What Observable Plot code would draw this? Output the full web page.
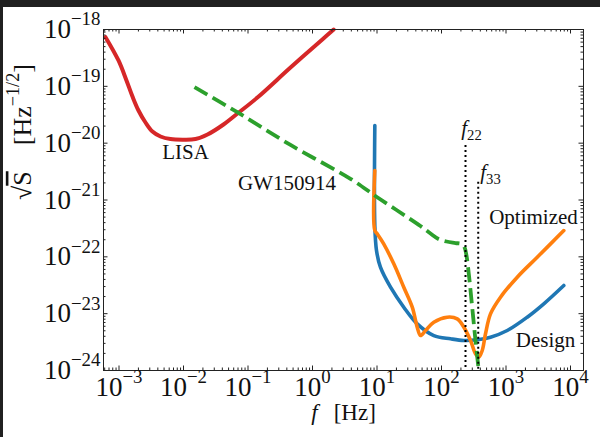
<!DOCTYPE html>
<html><head><meta charset="utf-8">
<script src="https://cdn.jsdelivr.net/npm/d3@7"></script>
<script src="https://cdn.jsdelivr.net/npm/@observablehq/plot@0.6"></script>
<style>
html,body{margin:0;padding:0;background:#202020;width:600px;height:437px;overflow:hidden;}
#chart{position:absolute;left:3px;top:7px;width:597px;height:430px;background:#fff;}
</style></head><body><div id="chart"></div>
<script>
// ---- data (frequency in Hz, amplitude spectral density in Hz^-1/2) ----
const lisaF = [6.18e-4, 9.82e-4, 1.306e-3, 1.618e-3, 2.005e-3, 2.576e-3, 3.30e-3, 4.40e-3, 6.28e-3, 9.64e-3, 1.535e-2, 2.355e-2, 4.17e-2, 6.87e-2, 0.140, 0.456, 1.48, 2.13];
const lisaS = [7.33e-19, 2.85e-19, 1.27e-19, 6.62e-20, 3.76e-20, 2.31e-20, 1.60e-20, 1.31e-20, 1.18e-20, 1.15e-20, 1.18e-20, 1.42e-20, 2.13e-20, 3.32e-20, 6.35e-20, 2.14e-19, 6.95e-19, 1.0e-18];

const gwF = [1.48e-2, 6.81e-2, 0.456, 3.88, 10.07, 47.2, 67.5, 89.7, 119.6, 164.8, 204, 227.5, 244, 265, 299, 336.5, 378];
const gwS = [9.66e-20, 3.51e-20, 9.29e-21, 2.36e-21, 1.12e-21, 3.48e-22, 2.57e-22, 2.06e-22, 1.86e-22, 1.75e-22, 1.68e-22, 1.46e-22, 1.05e-22, 5.02e-23, 1.30e-23, 3.37e-24, 1.0e-24];

const designF = [9.25, 9.25, 9.82, 11.3, 16.2, 26.0, 42.0, 75.9, 138, 222, 357, 575, 1045, 2133, 3855, 7870];
const designS = [2.05e-20, 3.56e-22, 1.29e-22, 6.56e-23, 2.92e-23, 1.30e-23, 6.62e-24, 4.12e-24, 3.61e-24, 3.37e-24, 3.47e-24, 3.85e-24, 5.05e-24, 8.67e-24, 1.49e-23, 3.13e-23];

const optF = [9.25, 9.25, 10.07, 12.7, 18.2, 26.0, 35.2, 42.0, 47.2, 56.5, 75.9, 122.5, 175, 222, 282, 336.5, 378, 428, 481, 575, 822, 1493, 3048, 7870];
const optS = [3.30e-21, 2.90e-22, 2.54e-22, 1.69e-22, 7.53e-23, 2.92e-23, 1.30e-23, 5.78e-24, 4.12e-24, 5.05e-24, 7.08e-24, 8.67e-24, 8.11e-24, 5.78e-24, 3.37e-24, 1.96e-24, 1.71e-24, 2.25e-24, 4.43e-24, 9.93e-24, 1.95e-23, 4.38e-23, 9.84e-23, 2.90e-22];

const markF = [235.5, 371];           // f22, f33
const markTop = [9.1e-21, 2.06e-21];
const markLabel = ["*{f}_{22}", "*{f}_{33}"];
const markLabelF = [292, 575];
const markLabelS = [1.81e-20, 3.05e-21];

const annotText = ["LISA", "GW150914", "Optimized", "Design"];
const annotF = [1.074e-2, 0.403, 2667, 4093];
const annotS = [6.85e-21, 1.95e-21, 4.92e-22, 3.37e-24];

const xTickExps = [-3, -2, -1, 0, 1, 2, 3, 4];
const yTickExps = [-24, -23, -22, -21, -20, -19, -18];
const xTitle = "*{f}\u2002\u2009[Hz]";
const yTitle = "\u221A~{S}\u2002\u2002[Hz^{\u22121/2}]";

// ---- tables ----
const zip = (F, S) => F.map((f, i) => ({f, s: S[i]}));
const lisa = zip(lisaF, lisaS), gw = zip(gwF, gwS), design = zip(designF, designS), opt = zip(optF, optS);
const marks = markF.map((f, i) => ({f, top: markTop[i]}));
const markLabels = markLabel.map((t, i) => ({t, f: markLabelF[i], s: markLabelS[i]}));
const annots = annotText.map((t, i) => ({t, f: annotF[i], s: annotS[i]}));

const xDom = [5.75e-4, 1.59e4], yDom = [1e-24, 1e-18];
const xMajor = xTickExps.map(e => Math.pow(10, e));
const yMajor = yTickExps.map(e => Math.pow(10, e));
const minorOf = (exps, dom) => {
  const out = [];
  for (let e = exps[0] - 1; e <= exps[exps.length - 1]; e++)
    for (let m = 2; m <= 9; m++) { const v = m * Math.pow(10, e); if (v > dom[0] && v < dom[1]) out.push(v); }
  return out;
};
const xMinor = minorOf(xTickExps, xDom), yMinor = minorOf(yTickExps, yDom);
const expFmt = e => "10^{" + (e < 0 ? "\u2212" + (-e) : String(e)) + "}";

const FH = 341, FW = 480, MAJ = 4.5, MIN = 2.5, TC = "#222";

const plot = Plot.plot({
  width: 597, height: 430,
  marginLeft: 100, marginRight: 17, marginTop: 22, marginBottom: 67,
  x: {type: "log", domain: xDom, axis: null},
  y: {type: "log", domain: yDom, axis: null},
  style: {fontFamily: "'Liberation Serif', serif", background: "white", color: "#111"},
  marks: [
    Plot.line(lisa, {x: "f", y: "s", stroke: "#d62728", strokeWidth: 4, curve: "catmull-rom"}),
    Plot.line(design, {x: "f", y: "s", stroke: "#1f77b4", strokeWidth: 3.6, curve: "catmull-rom"}),
    Plot.line(opt, {x: "f", y: "s", stroke: "#ff7f0e", strokeWidth: 3.6, curve: "catmull-rom"}),
    Plot.line(gw, {x: "f", y: "s", stroke: "#2ca02c", strokeWidth: 3.8, strokeDasharray: "15,6", strokeLinecap: "butt", curve: "catmull-rom"}),
    Plot.ruleX(marks, {x: "f", y1: "top", y2: 1e-24, stroke: "#000", strokeWidth: 2, strokeDasharray: "2,3"}),
    // ticks (inward, all four sides)
    Plot.tickX(xMajor, {x: d => d, insetTop: FH - MAJ, stroke: TC}),
    Plot.tickX(xMajor, {x: d => d, insetBottom: FH - MAJ, stroke: TC}),
    Plot.tickX(xMinor, {x: d => d, insetTop: FH - MIN, stroke: TC}),
    Plot.tickX(xMinor, {x: d => d, insetBottom: FH - MIN, stroke: TC}),
    Plot.tickY(yMajor, {y: d => d, insetRight: FW - MAJ, stroke: TC}),
    Plot.tickY(yMajor, {y: d => d, insetLeft: FW - MAJ, stroke: TC}),
    Plot.tickY(yMinor, {y: d => d, insetRight: FW - MIN, stroke: TC}),
    Plot.tickY(yMinor, {y: d => d, insetLeft: FW - MIN, stroke: TC}),
    Plot.frame({stroke: TC, strokeWidth: 1}),
    // tick labels
    Plot.text(xTickExps, {x: e => Math.pow(10, e), frameAnchor: "bottom", lineAnchor: "top", dy: 6, text: expFmt, fontSize: 27, fill: "#111"}),
    Plot.text(yTickExps, {y: e => Math.pow(10, e), frameAnchor: "left", textAnchor: "end", lineAnchor: "middle", dx: -3, text: expFmt, fontSize: 27, fill: "#111"}),
    // axis titles
    Plot.text([xTitle], {frameAnchor: "bottom", lineAnchor: "middle", dy: 42, text: d => d, fontSize: 23, fill: "#111"}),
    Plot.text([yTitle], {frameAnchor: "left", lineAnchor: "middle", dx: -81, rotate: -90, text: d => d, fontSize: 26, fill: "#111"}),
    // annotations
    Plot.text(annots, {x: "f", y: "s", text: "t", fontSize: 21, fill: "#111", lineAnchor: "middle"}),
    Plot.text(markLabels, {x: "f", y: "s", text: "t", fontSize: 21, fill: "#111", lineAnchor: "middle"})
  ]
});
document.getElementById("chart").appendChild(plot);

// ---- rich text: ^{sup}, _{sub}, *{italic}, ~{overline} ----
(function richify(svg) {
  const NS = "http://www.w3.org/2000/svg";
  svg.querySelectorAll("text").forEach(t => {
    const s = t.textContent;
    if (!/[\^_*~]\{/.test(s)) return;
    const fs = parseFloat(getComputedStyle(t).fontSize) || 20;
    const parts = s.split(/([\^_*~]\{[^}]*\})/).filter(p => p !== "");
    while (t.firstChild) t.removeChild(t.firstChild);
    let shift = 0;
    for (const p of parts) {
      const m = p.match(/^([\^_*~])\{([^}]*)\}$/);
      const ts = document.createElementNS(NS, "tspan");
      let target = 0;
      if (m) {
        ts.textContent = m[2];
        if (m[1] === "^") { target = -0.47 * fs; ts.setAttribute("font-size", 0.7 * fs); }
        else if (m[1] === "_") { target = 0.22 * fs; ts.setAttribute("font-size", 0.7 * fs); }
        else if (m[1] === "*") ts.setAttribute("font-style", "italic");
        else if (m[1] === "~") ts.setAttribute("text-decoration", "overline");
      } else ts.textContent = p;
      if (target !== shift) { ts.setAttribute("dy", (target - shift).toFixed(2)); shift = target; }
      t.appendChild(ts);
    }
  });
})(plot);
</script></body></html>
